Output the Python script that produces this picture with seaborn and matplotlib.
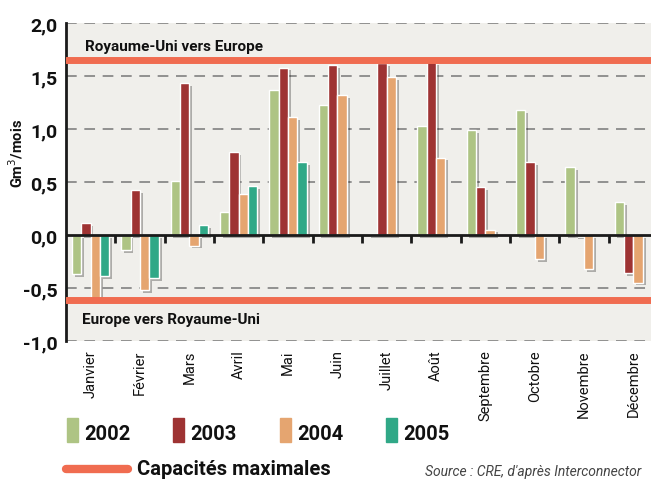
import matplotlib
matplotlib.use("Agg")
import matplotlib.pyplot as plt
import matplotlib.patheffects as pe
from matplotlib.patches import Rectangle
from matplotlib.lines import Line2D
import seaborn as sns
import pandas as pd
import numpy as np

# Data (Gm3 per month, positive = UK -> Europe)
months = ["Janvier", "Février", "Mars", "Avril", "Mai", "Juin", "Juillet",
          "Août", "Septembre", "Octobre", "Novembre", "Décembre"]
years = ["2002", "2003", "2004", "2005"]
flow_2002 = [-0.37, -0.14, 0.51, 0.22, 1.37, 1.23, 0.01, 1.03, 0.99, 1.18, 0.64, 0.31]
flow_2003 = [0.11, 0.42, 1.43, 0.78, 1.58, 1.60, 1.62, 1.63, 0.45, 0.69, -0.01, -0.36]
flow_2004 = [-0.60, -0.52, -0.10, 0.39, 1.11, 1.32, 1.49, 0.73, 0.05, -0.23, -0.32, -0.45]
flow_2005 = [-0.39, -0.41, 0.09, 0.46, 0.69, np.nan, np.nan, np.nan, np.nan, np.nan, np.nan, np.nan]
cap_uk_to_europe = 1.65
cap_europe_to_uk = -0.61
y_ticks = [-1.0, -0.5, 0.0, 0.5, 1.0, 1.5, 2.0]

colors = ["#aec484", "#9e3333", "#e5a570", "#30a887"]
cap_color = "#f06c50"

df = pd.DataFrame({
    "Mois": months * 4,
    "Année": sum([[y] * 12 for y in years], []),
    "Flux": flow_2002 + flow_2003 + flow_2004 + flow_2005,
})

sns.set_style("white")
plt.rcParams["font.family"] = ["Roboto", "DejaVu Sans"]
plt.rcParams["axes.unicode_minus"] = False

fig = plt.figure(figsize=(6.51, 4.81), dpi=100)
ax = fig.add_axes([0.1014, 0.289, 0.905, 0.661])
ax.set_facecolor("#f0efeb")

sns.barplot(data=df, x="Mois", y="Flux", hue="Année", hue_order=years,
            palette=colors, width=0.76, edgecolor="white", linewidth=1.0,
            saturation=1, legend=False, ax=ax, zorder=3)

# soft drop shadow behind each bar
shadow = [pe.SimplePatchShadow(offset=(2, -2), shadow_rgbFace="black", alpha=0.28), pe.Normal()]
for p in ax.patches:
    p.set_path_effects(shadow)

ax.set_ylim(-1.0, 2.0)
ax.set_xlim(-0.5, 11.44)
ax.set_yticks(y_ticks)
ax.set_yticklabels([f"{v:.1f}".replace(".", ",") for v in y_ticks],
                   fontsize=14, fontweight="bold", color="#111111")
for v in y_ticks:
    if v != 0:
        ax.axhline(v, color="#777777", lw=1.1, ls=(0, (7, 5)), zorder=1)
ax.axhline(0, color="#1a1a1a", lw=2, zorder=4)
ax.vlines(np.arange(0.5, 11.5, 1.0), -0.075, 0, color="#1a1a1a", lw=2, zorder=4)

# capacity lines
ax.axhline(cap_uk_to_europe, color=cap_color, lw=5, zorder=5)
ax.axhline(cap_europe_to_uk, color=cap_color, lw=5, zorder=5)
ax.text(-0.11, 1.78, "Royaume-Uni vers Europe", fontsize=11, fontweight="bold",
        color="#111111", va="center", ha="left")
ax.text(-0.17, -0.79, "Europe vers Royaume-Uni", fontsize=11, fontweight="bold",
        color="#111111", va="center", ha="left")

for s in ["top", "right", "bottom"]:
    ax.spines[s].set_visible(False)
ax.spines["left"].set_color("#1a1a1a")
ax.spines["left"].set_linewidth(2)
ax.tick_params(axis="y", length=4, width=1.5, color="#1a1a1a", pad=2)
ax.tick_params(axis="x", length=0, pad=6)
ax.set_xticks(range(12))
ax.set_xticklabels(months, rotation=90, fontsize=10.5, va="top", ha="center", color="#111111")
ax.set_xlabel("")
ax.set_ylabel("")

fig.text(0.025, 0.68, "Gm$^3$/mois", rotation=90, fontsize=10.5, fontweight="bold",
         va="center", ha="center", color="#111111")

# legend
leg_x = [67, 173, 280, 386]
for x, c, y in zip(leg_x, colors, years):
    fig.patches.append(Rectangle((x / 651, 1 - 443 / 481), 11 / 651, 24 / 481,
                                 transform=fig.transFigure, color=c))
    fig.text((x + 17) / 651, 1 - 434 / 481, y, fontsize=14.5, fontweight="bold",
             color="#111111", va="center", ha="left")
fig.lines.append(Line2D([66 / 651, 128 / 651], [1 - 470 / 481, 1 - 470 / 481],
                        transform=fig.transFigure, color=cap_color, lw=6))
fig.text(137 / 651, 1 - 470 / 481, "Capacités maximales", fontsize=14.5, fontweight="bold",
         color="#111111", va="center", ha="left")
fig.text(425 / 651, 1 - 472 / 481, "Source : CRE, d'après Interconnector", fontsize=10,
         style="italic", color="#444444", va="center", ha="left")

fig.savefig("out.png", dpi=100)
